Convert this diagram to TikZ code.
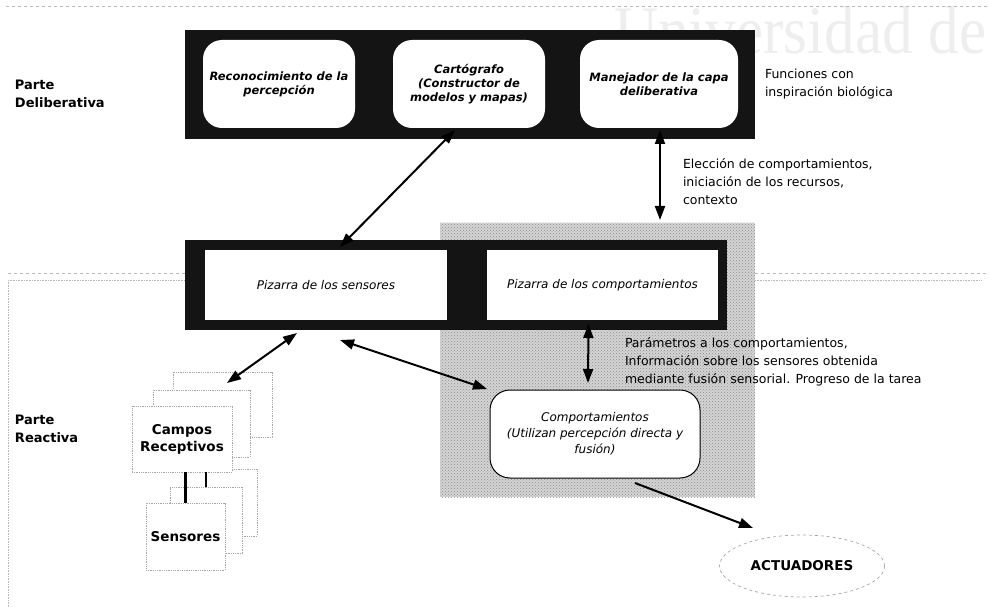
\documentclass[tikz,border=0pt]{standalone}
\usepackage{fontspec}
\setmainfont{DejaVu Sans}
\newfontfamily\wmfont{Liberation Serif}
\usetikzlibrary{arrows.meta,shapes.geometric,calc,patterns}

\begin{document}
\begin{tikzpicture}[x=1pt,y=-1pt,
  every node/.style={inner sep=0pt, outer sep=0pt},
  bar/.style={fill=black!92, rectangle},
  delibbox/.style={fill=white, rounded corners=19pt, align=center,
    font=\fontsize{11.5}{14}\selectfont\bfseries\itshape},
  pizbox/.style={fill=white, align=center, font=\fontsize{12}{14}\selectfont\itshape},
  compbox/.style={fill=white, draw=black, line width=1pt, rounded corners=20pt,
    align=center, font=\fontsize{12}{16}\selectfont\itshape},
  note/.style={align=left, anchor=north west, font=\fontsize{12.5}{18}\selectfont},
  side/.style={align=left, anchor=west, font=\fontsize{13}{18}\selectfont\bfseries},
  stackbox/.style={draw=gray!70, densely dotted, fill=white, line width=0.8pt,
    align=center, font=\fontsize{13.5}{17}\selectfont\bfseries},
  region/.style={fill=black!17},
  grain/.style={pattern=crosshatch dots, pattern color=black!45},
  link/.style={line width=2pt, {Triangle[length=14pt,width=10pt]}-{Triangle[length=14pt,width=10pt]}},
  onelink/.style={line width=2pt, -{Triangle[length=14pt,width=10pt]}},
  guide/.style={draw=gray!55, dashed, line width=0.6pt},
  guidedot/.style={draw=gray!55, densely dotted, line width=0.6pt},
]
\useasboundingbox (0,0) rectangle (989,607);

% faint watermark in the upper right corner
\node[anchor=base west, text=gray!13, font=\wmfont\fontsize{68}{68}\selectfont, xscale=0.9]
  (wm) at (614,54) {Universidad de};

% separator lines between the two layers
\draw[guide] (6,6) -- (989,6);
\draw[guide] (8,273) -- (185,273);
\draw[guidedot] (8,280) -- (185,280);
\draw[guidedot] (8,280) -- (8,607);
\draw[guide] (755,273) -- (989,273);
\draw[guidedot] (755,280) -- (982,280);

% shaded, grainy area of the behaviour subsystem
\node[region, minimum width=315pt, minimum height=274pt] (zone) at (597.5,360) {};
\fill[grain] (zone.north west) rectangle (zone.south east);

% deliberative layer
\node[bar, minimum width=570pt, minimum height=109pt] (delib) at (470,84.5) {};
\node[delibbox, minimum width=152pt, minimum height=88pt] (recon) at (279,84)
  {Reconocimiento de la\\percepción};
\node[delibbox, minimum width=152pt, minimum height=88pt] (cart) at (469,84)
  {Cartógrafo\\(Constructor de\\modelos y mapas)};
\node[delibbox, minimum width=158pt, minimum height=88pt] (mgr) at (659,84)
  {Manejador de la capa\\deliberativa};

% blackboards
\node[bar, minimum width=542pt, minimum height=90pt] (midbar) at (456,285) {};
\node[pizbox, minimum width=242pt, minimum height=70pt] (spiz) at (326,285)
  {Pizarra de los sensores};
\node[pizbox, minimum width=231pt, minimum height=70pt] (cpiz) at (602.5,285)
  {Pizarra de los comportamientos};

% behaviours and actuators
\node[compbox, minimum width=210pt, minimum height=88pt] (comp) at (595,434)
  {Comportamientos\\(Utilizan percepción directa y\\fusión)};
\node[ellipse, draw=gray!70, dashed, line width=0.7pt, minimum width=165pt, minimum height=62pt,
  font=\fontsize{13.5}{16}\selectfont\bfseries] (act) at (802,566) {ACTUADORES};

% stacked receptive fields and sensors
\node[stackbox, minimum width=99pt, minimum height=65pt] (cA) at (222.5,404.5) {};
\node[stackbox, minimum width=97pt, minimum height=67pt] (cB) at (201.5,423.5) {};
\node[stackbox, minimum width=71pt, minimum height=67pt] (sA) at (221.5,502.5) {};
\node[stackbox, minimum width=72pt, minimum height=66pt] (sB) at (206,520) {};
\node[stackbox, minimum width=100pt, minimum height=66pt] (campos) at (182,439)
  {Campos\\Receptivos};
\node[stackbox, minimum width=79pt, minimum height=67pt] (sens) at (185.5,536.5)
  {Sensores};
\draw[line width=2.5pt] (campos.south -| sens.north) -- (sens.north);
\draw[line width=2.5pt] (campos.south -| sB.north) -- (sB.north);

% side labels and annotations
\node[side] (pd) at (15,94) {Parte\\Deliberativa};
\node[side] (pr) at (15,429) {Parte\\Reactiva};
\node[note, anchor=west] (fun) at (765,84) {Funciones con\\inspiración biológica};
\node[note] (elec) at (683,159) {Elección de comportamientos,\\iniciación de los recursos,\\contexto};
\node[note] (param) at (625,338) {Parámetros a los comportamientos,\\Información sobre los sensores obtenida\\mediante fusión sensorial. Progreso de la tarea};

% connections
\draw[link] ($(cart.south)+(-14,2)$) -- ($(spiz.north)+(14,-3)$);
\draw[link] ($(mgr.south)+(1,2)$) -- ($(mgr.south)+(1,92)$);
\draw[link] ($(spiz.south)+(-29,13)$) -- ($(cA.north)+(4.5,11)$);
\draw[link] ($(spiz.south)+(14,20)$) -- ($(comp.north west)+(-3,-1)$);
\draw[link] ($(cpiz.south)+(-14,4)$) -- ($(comp.north)+(-7,-7)$);
\draw[onelink] ($(comp.south)+(40,5)$) -- ($(act.north)+(-49,-7)$);
\end{tikzpicture}
\end{document}
